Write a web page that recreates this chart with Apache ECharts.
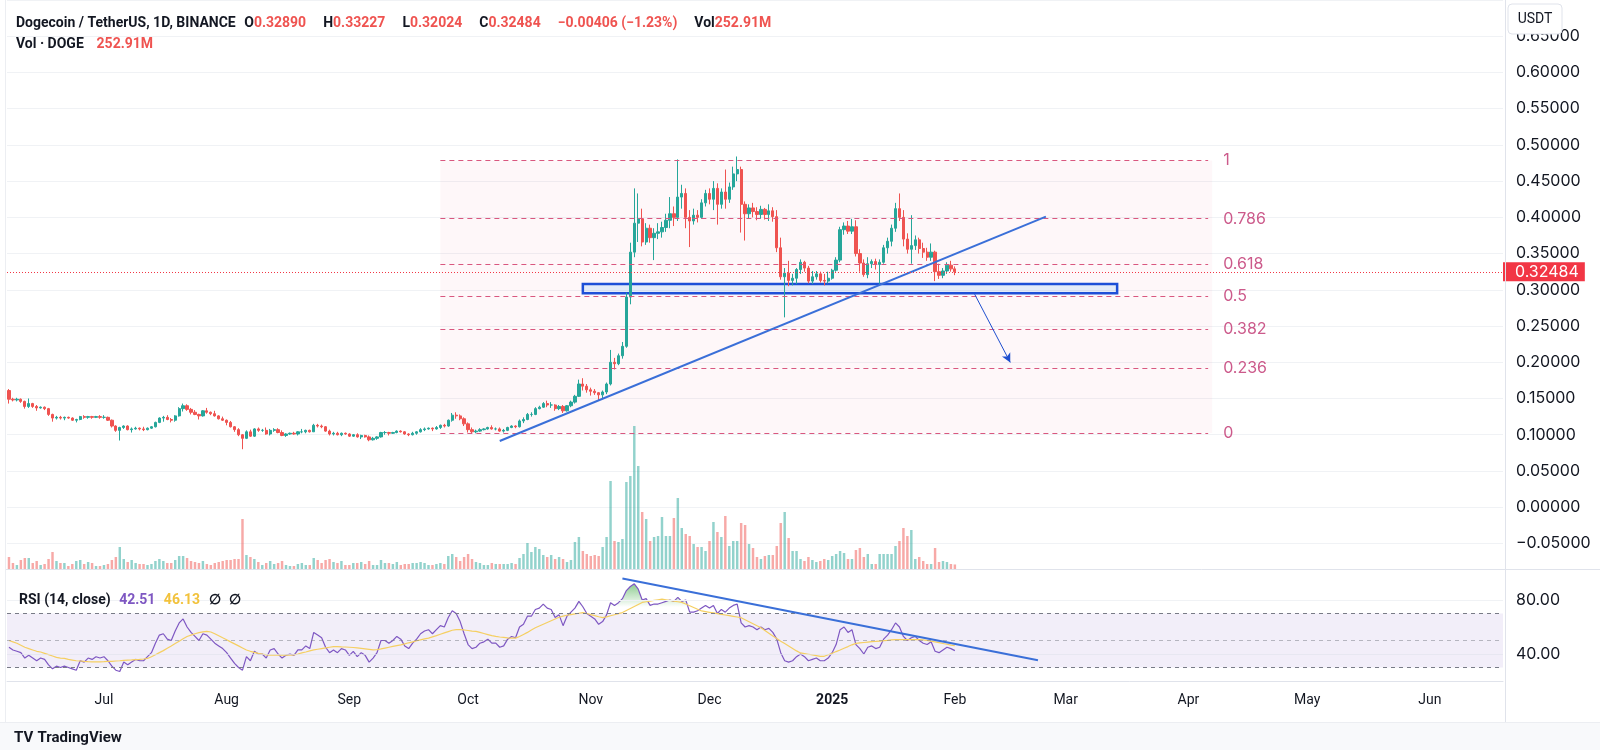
<!DOCTYPE html>
<html>
<head>
<meta charset="utf-8">
<script src="https://cdn.jsdelivr.net/npm/echarts@6/dist/echarts.min.js"></script>
<style>
  html, body { margin: 0; padding: 0; background: #fff; }
  #chart { width: 1600px; height: 750px; }
</style>
</head>
<body>
<div id="chart"></div>
<script>
// daily candles from 2024-06-07, [open, close, low, high]
const startDate = '2024-06-07';
const dayCount = 378;
const ohlc = [
  [0.161,0.149,0.143,0.163],[0.149,0.148,0.146,0.151],[0.148,0.149,0.146,0.151],[0.149,0.146,0.144,0.150],
  [0.146,0.139,0.136,0.147],[0.139,0.143,0.137,0.150],[0.143,0.139,0.137,0.144],[0.139,0.137,0.133,0.141],
  [0.137,0.138,0.136,0.139],[0.138,0.136,0.134,0.139],[0.136,0.128,0.126,0.137],[0.128,0.123,0.118,0.129],
  [0.123,0.124,0.121,0.126],[0.124,0.123,0.121,0.126],[0.123,0.124,0.120,0.125],[0.124,0.123,0.122,0.125],
  [0.123,0.120,0.119,0.124],[0.120,0.121,0.117,0.122],[0.121,0.125,0.120,0.126],[0.125,0.124,0.122,0.127],
  [0.124,0.125,0.122,0.126],[0.125,0.124,0.122,0.126],[0.124,0.125,0.123,0.126],[0.125,0.124,0.122,0.127],
  [0.124,0.124,0.122,0.127],[0.124,0.120,0.119,0.125],[0.120,0.112,0.110,0.121],[0.112,0.106,0.104,0.113],
  [0.106,0.110,0.092,0.111],[0.110,0.112,0.108,0.113],[0.112,0.107,0.106,0.113],[0.107,0.108,0.103,0.110],
  [0.108,0.109,0.107,0.111],[0.109,0.108,0.106,0.110],[0.108,0.107,0.105,0.111],[0.107,0.109,0.106,0.110],
  [0.109,0.111,0.108,0.112],[0.111,0.117,0.110,0.118],[0.117,0.123,0.116,0.124],[0.123,0.124,0.118,0.126],
  [0.124,0.121,0.120,0.127],[0.121,0.120,0.117,0.123],[0.120,0.126,0.118,0.127],[0.126,0.136,0.125,0.138],
  [0.136,0.140,0.132,0.143],[0.140,0.135,0.133,0.142],[0.135,0.131,0.128,0.137],[0.131,0.128,0.127,0.134],
  [0.128,0.126,0.121,0.129],[0.126,0.133,0.125,0.134],[0.133,0.131,0.129,0.137],[0.131,0.129,0.127,0.132],
  [0.129,0.126,0.125,0.133],[0.126,0.122,0.121,0.127],[0.122,0.120,0.119,0.125],[0.120,0.117,0.113,0.121],
  [0.117,0.111,0.110,0.119],[0.111,0.107,0.104,0.112],[0.107,0.100,0.098,0.109],[0.100,0.095,0.080,0.101],
  [0.095,0.104,0.094,0.106],[0.104,0.098,0.097,0.107],[0.098,0.108,0.097,0.109],[0.108,0.106,0.104,0.110],
  [0.106,0.106,0.104,0.108],[0.106,0.101,0.100,0.110],[0.101,0.106,0.099,0.108],[0.106,0.107,0.104,0.109],
  [0.107,0.103,0.102,0.109],[0.103,0.099,0.098,0.106],[0.099,0.101,0.097,0.102],[0.101,0.102,0.100,0.103],
  [0.102,0.101,0.100,0.104],[0.101,0.104,0.099,0.105],[0.104,0.104,0.102,0.108],[0.104,0.106,0.102,0.107],
  [0.106,0.104,0.103,0.107],[0.104,0.113,0.104,0.115],[0.113,0.112,0.110,0.115],[0.112,0.111,0.109,0.114],
  [0.111,0.105,0.104,0.112],[0.105,0.101,0.099,0.107],[0.101,0.102,0.099,0.104],[0.102,0.100,0.099,0.104],
  [0.100,0.102,0.098,0.103],[0.102,0.101,0.100,0.103],[0.101,0.098,0.097,0.102],[0.098,0.100,0.097,0.101],
  [0.100,0.097,0.096,0.102],[0.097,0.099,0.094,0.100],[0.099,0.097,0.096,0.100],[0.097,0.093,0.091,0.099],
  [0.093,0.095,0.092,0.097],[0.095,0.097,0.093,0.098],[0.097,0.103,0.096,0.104],[0.103,0.103,0.100,0.105],
  [0.103,0.102,0.099,0.104],[0.102,0.103,0.101,0.104],[0.103,0.105,0.102,0.106],[0.105,0.104,0.103,0.106],
  [0.104,0.101,0.100,0.105],[0.101,0.100,0.098,0.102],[0.100,0.102,0.099,0.104],[0.102,0.104,0.100,0.105],
  [0.104,0.107,0.103,0.109],[0.107,0.108,0.105,0.110],[0.108,0.109,0.107,0.110],[0.109,0.108,0.105,0.110],
  [0.108,0.110,0.107,0.112],[0.110,0.113,0.108,0.114],[0.113,0.112,0.110,0.115],[0.112,0.120,0.111,0.121],
  [0.120,0.127,0.118,0.130],[0.127,0.126,0.122,0.131],[0.126,0.122,0.120,0.128],[0.122,0.115,0.112,0.124],
  [0.115,0.107,0.103,0.117],[0.107,0.104,0.102,0.110],[0.104,0.105,0.102,0.107],[0.105,0.107,0.104,0.109],
  [0.107,0.108,0.106,0.109],[0.108,0.110,0.107,0.111],[0.110,0.108,0.107,0.113],[0.108,0.108,0.106,0.110],
  [0.108,0.105,0.104,0.110],[0.105,0.106,0.103,0.108],[0.106,0.110,0.105,0.111],[0.110,0.112,0.109,0.113],
  [0.112,0.111,0.109,0.113],[0.111,0.119,0.110,0.121],[0.119,0.121,0.116,0.124],[0.121,0.128,0.120,0.130],
  [0.128,0.128,0.125,0.131],[0.128,0.136,0.127,0.138],[0.136,0.138,0.135,0.140],[0.138,0.143,0.137,0.145],
  [0.143,0.141,0.138,0.147],[0.141,0.141,0.137,0.145],[0.141,0.136,0.133,0.142],[0.136,0.139,0.134,0.141],
  [0.139,0.133,0.130,0.141],[0.133,0.140,0.132,0.141],[0.140,0.145,0.138,0.147],[0.145,0.153,0.143,0.155],
  [0.153,0.170,0.152,0.176],[0.170,0.167,0.161,0.178],[0.167,0.162,0.158,0.170],[0.162,0.160,0.154,0.165],
  [0.160,0.158,0.155,0.163],[0.158,0.155,0.148,0.159],[0.155,0.159,0.149,0.161],[0.159,0.170,0.156,0.172],
  [0.170,0.200,0.168,0.217],[0.200,0.198,0.190,0.206],[0.198,0.209,0.196,0.212],[0.209,0.222,0.205,0.228],
  [0.222,0.290,0.220,0.296],[0.290,0.352,0.280,0.365],[0.352,0.392,0.345,0.440],[0.392,0.398,0.366,0.433],
  [0.398,0.366,0.360,0.412],[0.366,0.385,0.362,0.392],[0.385,0.372,0.365,0.390],[0.372,0.378,0.341,0.385],
  [0.378,0.380,0.370,0.392],[0.380,0.386,0.372,0.394],[0.386,0.396,0.380,0.405],[0.396,0.405,0.385,0.428],
  [0.405,0.400,0.388,0.415],[0.400,0.428,0.395,0.480],[0.428,0.433,0.412,0.445],[0.433,0.400,0.385,0.440],
  [0.400,0.395,0.359,0.410],[0.395,0.403,0.390,0.412],[0.403,0.400,0.393,0.410],[0.400,0.420,0.398,0.425],
  [0.420,0.433,0.415,0.438],[0.433,0.425,0.418,0.440],[0.425,0.440,0.410,0.450],[0.440,0.418,0.390,0.447],
  [0.418,0.435,0.412,0.440],[0.435,0.425,0.412,0.466],[0.425,0.442,0.420,0.448],[0.442,0.460,0.438,0.470],
  [0.460,0.466,0.450,0.484],[0.466,0.418,0.379,0.470],[0.418,0.405,0.368,0.422],[0.405,0.413,0.398,0.418],
  [0.413,0.408,0.400,0.420],[0.408,0.404,0.396,0.414],[0.404,0.411,0.398,0.416],[0.411,0.404,0.397,0.413],
  [0.404,0.409,0.395,0.418],[0.409,0.401,0.394,0.414],[0.401,0.358,0.352,0.410],[0.358,0.318,0.314,0.372],
  [0.318,0.323,0.262,0.330],[0.323,0.313,0.305,0.340],[0.313,0.316,0.306,0.322],[0.316,0.328,0.308,0.330],
  [0.328,0.338,0.322,0.342],[0.338,0.330,0.325,0.340],[0.330,0.312,0.309,0.333],[0.312,0.318,0.308,0.326],
  [0.318,0.322,0.314,0.326],[0.322,0.313,0.310,0.325],[0.313,0.312,0.306,0.322],[0.312,0.316,0.309,0.325],
  [0.316,0.327,0.314,0.329],[0.327,0.341,0.325,0.345],[0.341,0.383,0.338,0.387],[0.383,0.388,0.376,0.393],
  [0.388,0.381,0.377,0.395],[0.381,0.387,0.377,0.398],[0.387,0.350,0.346,0.396],[0.350,0.337,0.325,0.356],
  [0.337,0.321,0.318,0.342],[0.321,0.336,0.316,0.345],[0.336,0.339,0.330,0.342],[0.339,0.335,0.328,0.343],
  [0.335,0.338,0.308,0.342],[0.338,0.358,0.336,0.362],[0.358,0.367,0.350,0.372],[0.367,0.385,0.360,0.390],
  [0.385,0.412,0.380,0.420],[0.412,0.400,0.395,0.433],[0.400,0.370,0.360,0.410],[0.370,0.356,0.350,0.378],
  [0.356,0.361,0.336,0.403],[0.361,0.369,0.355,0.375],[0.369,0.357,0.350,0.372],[0.357,0.352,0.344,0.365],
  [0.352,0.345,0.340,0.358],[0.345,0.352,0.340,0.364],[0.352,0.325,0.312,0.354],[0.325,0.320,0.315,0.336],
  [0.320,0.326,0.316,0.330],[0.326,0.334,0.322,0.338],[0.334,0.3289,0.325,0.340],[0.3289,0.32484,0.32024,0.33227]
];

// volume in millions of DOGE
const volume = [
  672,336,224,504,616,616,336,448,224,280,560,952,448,336,336,168,280,448,504,280,392,336,168,168,
  224,280,504,672,1232,560,392,504,336,280,280,224,280,448,560,448,336,336,504,728,728,616,448,392,
  336,448,280,224,336,392,448,504,504,560,560,2800,784,672,560,392,224,336,448,280,336,448,224,168,
  168,280,336,224,224,616,504,336,504,560,392,336,448,224,224,336,336,392,280,448,224,224,504,336,
  336,280,392,224,280,280,336,336,392,336,224,224,280,336,280,728,840,672,448,672,840,560,392,336,
  224,224,336,280,280,280,280,336,280,616,840,1456,952,1232,1120,784,672,784,560,672,560,392,504,1512,
  1792,1008,840,728,784,728,1232,1792,4928,1568,1512,1680,4872,5208,8008,5768,3192,2800,1568,1792,1848,2912,1848,1848,
  2856,3976,2296,1960,1848,1400,1232,1232,1008,1568,2632,2072,1792,2968,1288,1568,1568,2576,2464,1400,1176,672,
  560,728,784,784,1288,2576,3192,1736,1008,1008,560,448,672,504,392,448,560,504,728,840,1008,896,560,560,
  1064,1176,672,840,280,280,840,840,840,840,1288,1568,2296,1848,2184,560,672,448,280,280,1176,392,448,392,280,252.91
];

const rsi = [
  45,43,42,41,37,39,37,35,37,36,32,29,31,30,31,30,29,28,35,34,37,36,38,37,
  38,35,31,28,27,34,32,34,36,35,35,38,41,48,54,55,51,50,57,63,66,60,56,53,
  50,55,54,51,48,46,44,41,37,33,30,28,38,35,42,40,40,37,43,44,40,37,39,40,
  39,43,43,46,44,56,54,52,45,41,43,41,44,43,39,42,38,41,39,34,37,41,50,50,
  48,50,53,51,46,44,48,51,55,57,58,55,58,61,60,67,72,70,64,55,47,44,45,48,
  49,51,48,48,45,46,51,53,52,60,62,68,68,73,74,77,74,73,67,69,61,68,71,74,
  79,75,70,68,66,62,64,69,78,76,78,81,87,90,92,88,80,81,76,77,77,78,79,80,
  79,82,79,80,71,71,72,74,76,74,76,70,73,71,74,76,77,63,60,61,60,58,60,58,
  59,56,51,41,35,34,35,38,40,38,35,36,37,35,35,37,41,47,58,60,56,58,47,44,
  40,45,46,44,45,51,54,58,63,60,53,50,52,53,50,48,47,49,42,41,43,45,44,42.51
];

const rsiMa = [
  50,49,48,46.5,45,44,43,42,41.5,40.5,39.5,38.5,37.5,37,36.7,36,35.5,35,34.8,34.5,34.3,34.2,34.2,34.2,
  34.3,34.5,34.6,34.8,35,35.3,35.5,35.6,35.8,36,36.3,36.7,38,39.5,41,42.5,44.3,46,47.8,49.5,51.3,53,54,55,
  55.8,56.4,56.8,56.3,55,53.5,52,50.6,49,47.5,46,44.5,43,42,41.2,40.5,40,39.4,39.2,39.2,39.2,39.2,39.2,39.2,
  39.3,40,40.8,41.5,42.3,43,43.5,44,44.5,45,45.5,45.5,45.3,45.2,45,44.8,44.5,44.2,43.8,43.4,43,43.3,43.8,44.4,
  45,45.6,46.2,46.8,47.5,48.3,49,49.8,50.5,51.2,51.8,52.7,53.6,54.6,55.6,56.6,57.6,58.1,58,57.8,57.4,57,56.7,56,
  55.2,54.4,53.6,53,52.6,52.3,52,51.8,51.8,53,54.5,56,57.8,59.4,60.7,62,63.3,64.6,65.9,67.2,68.1,68.7,69.2,69.7,
  70.2,70.7,70,69.2,68.4,67.6,66.9,67.5,68.3,69.1,69.9,70.7,72.2,73.7,75.2,76.7,78.2,78.7,79.2,79.7,80.2,80.7,80.2,79.7,
  79.2,78.7,78.2,77,75.7,74.4,73.1,71.9,71.4,70.9,70.4,69.9,69.4,68.9,68.4,67.9,67.4,66.9,65.4,63.9,62.4,60.9,59.4,57.4,
  55.4,53.4,51.4,49.5,47.7,45.9,44.1,42.3,40.8,40.3,39.8,39.3,38.8,38.3,38.3,39.4,40.5,41.8,43,44.3,45.5,46.8,47.9,48.2,
  48.5,48.8,49.1,49.3,49.6,49.9,50.1,50.4,50.6,50.6,50.6,50.6,50.6,50.6,50.6,50.5,50,49.5,49,48.4,47.8,47.2,46.6,46.13
];

const fibLevels = ['0', '0.236', '0.382', '0.5', '0.618', '0.786', '1'];
const fibLow = 0.1025;
const fibHigh = 0.4786;
const lastPrice = 0.32484;

const upColor = '#26a69a';
const downColor = '#ef5350';
const monthNames = ['Jan','Feb','Mar','Apr','May','Jun','Jul','Aug','Sep','Oct','Nov','Dec'];

// category dates
const dates = [];
(function () {
  let d = new Date(startDate + 'T00:00:00Z');
  for (let i = 0; i < dayCount; i++) {
    dates.push(d.toISOString().slice(0, 10));
    d = new Date(d.getTime() + 86400000);
  }
})();

const chart = echarts.init(document.getElementById('chart'), null, { renderer: 'canvas' });

const fibLines = fibLevels.map(function (lv) {
  const v = fibLow + parseFloat(lv) * (fibHigh - fibLow);
  return [
    { coord: [109, v], name: lv },
    { coord: [303, v] }
  ];
});

const overbought = rsi.map(function (v) { return Math.max(v - 70, 0); });
const base70 = rsi.map(function () { return 70; });

const font = 'Inter';
const headRich = {
  n: { color: '#131722', fontSize: 14, fontFamily: 'Roboto' },
  r: { color: '#ef5350', fontSize: 14, fontFamily: 'Roboto' },
  p: { color: '#7e57c2', fontSize: 14, fontFamily: 'Roboto' },
  y: { color: '#f2c23c', fontSize: 14, fontFamily: 'Roboto' }
};

const option = {
  animation: false,
  backgroundColor: '#ffffff',
  textStyle: { fontFamily: font },
  title: [
    {
      left: 11, top: 9,
      text: '{n|Dogecoin / TetherUS, 1D, BINANCE}  {n|O}{r|0.32890}    {n|H}{r|0.33227}    {n|L}{r|0.32024}    {n|C}{r|0.32484}    {r|−0.00406 (−1.23%)}    {n|Vol}{r|252.91M}',
      textStyle: { rich: headRich }
    },
    {
      left: 11, top: 30,
      text: '{n|Vol · DOGE}   {r|252.91M}',
      textStyle: { rich: headRich }
    },
    {
      left: 14, top: 586,
      text: '{n|RSI (14, close)}  {p|42.51}  {y|46.13}  {n|∅}  {n|∅}',
      textStyle: { rich: headRich }
    },
    {
      left: 9, top: 724,
      text: '{l|TV} {n|TradingView}',
      textStyle: {
        rich: {
          l: { color: '#131722', fontSize: 15, fontWeight: 'bold', fontFamily: 'Roboto' },
          n: { color: '#131722', fontSize: 15, fontFamily: 'Roboto' }
        }
      }
    }
  ],
  grid: [
    { left: 7, width: 1496, top: 0, height: 543.4 },
    { left: 7, width: 1496, top: 420, height: 149 },
    { left: 7, width: 1496, top: 573, height: 108 }
  ],
  xAxis: [
    { type: 'category', gridIndex: 0, data: dates, show: false },
    { type: 'category', gridIndex: 1, data: dates, show: false },
    {
      type: 'category', gridIndex: 2, data: dates,
      axisLine: { lineStyle: { color: '#e0e3eb' } },
      axisTick: { show: false },
      splitLine: { show: false },
      axisLabel: {
        margin: 12,
        color: '#131722',
        fontSize: 14,
        fontFamily: 'Roboto',
        interval: function (idx, val) { return val.slice(8) === '01'; },
        formatter: function (val) {
          const m = parseInt(val.slice(5, 7), 10);
          if (m === 1) return '{b|' + val.slice(0, 4) + '}';
          return monthNames[m - 1];
        },
        rich: { b: { fontWeight: 'bold', fontSize: 14, color: '#131722', fontFamily: 'Roboto' } }
      }
    }
  ],
  yAxis: [
    {
      type: 'value', gridIndex: 0, position: 'right',
      min: -0.05, max: 0.70, interval: 0.05,
      axisLine: { show: false }, axisTick: { show: false },
      splitLine: { lineStyle: { color: '#f0f2f5' } },
      axisLabel: {
        margin: 13, color: '#131722', fontSize: 16, fontFamily: font,
        formatter: function (v) {
          if (v > 0.675) return '';
          return (v < -1e-9 ? '−' : '') + Math.abs(v).toFixed(5);
        }
      }
    },
    {
      type: 'value', gridIndex: 1, min: 0, max: 8344, show: false
    },
    {
      type: 'value', gridIndex: 2, position: 'right',
      min: 20, max: 100, interval: 20,
      axisLine: { show: false }, axisTick: { show: false },
      splitLine: { show: false },
      axisLabel: {
        margin: 13, color: '#131722', fontSize: 16, fontFamily: font,
        formatter: function (v) { return (v === 40 || v === 80) ? v.toFixed(2) : ''; }
      }
    }
  ],
  graphic: [
    { type: 'rect', silent: true, z: 0, shape: { x: 0, y: 722, width: 1600, height: 28 }, style: { fill: '#f8f9fb' } },
    { type: 'line', silent: true, z: 0, shape: { x1: 0, y1: 722.5, x2: 1600, y2: 722.5 }, style: { stroke: '#eceef2', lineWidth: 1 } },
    { type: 'line', silent: true, z: 50, shape: { x1: 1505.5, y1: 0, x2: 1505.5, y2: 722 }, style: { stroke: '#e0e3eb', lineWidth: 1 } },
    { type: 'line', silent: true, z: 50, shape: { x1: 5, y1: 569.5, x2: 1600, y2: 569.5 }, style: { stroke: '#e0e3eb', lineWidth: 1 } },
    { type: 'line', silent: true, z: 50, shape: { x1: 5.5, y1: 0, x2: 5.5, y2: 722 }, style: { stroke: '#eceef2', lineWidth: 1 } },
    { type: 'rect', silent: true, z: 60, shape: { x: 1508, y: 4, width: 54, height: 30, r: 4 }, style: { fill: '#ffffff', stroke: '#e0e3eb', lineWidth: 1 } },
    { type: 'text', silent: true, z: 61, x: 1535, y: 19, style: { text: 'USDT', fill: '#131722', font: '14px Roboto', align: 'center', verticalAlign: 'middle' } }
  ],
  series: [
    {
      name: 'DOGEUSDT',
      type: 'candlestick',
      xAxisIndex: 0, yAxisIndex: 0,
      data: ohlc,
      barWidth: '70%',
      itemStyle: { color: upColor, color0: downColor, borderColor: upColor, borderColor0: downColor, borderWidth: 1 },
      markArea: {
        silent: true,
        data: [
          [
            { coord: [109, fibHigh], itemStyle: { color: 'rgba(233, 30, 99, 0.035)', borderWidth: 0 } },
            { coord: [304, fibLow] }
          ],
          [
            { coord: [145, 0.3081], itemStyle: { color: 'rgba(33, 150, 243, 0.12)', borderColor: '#1d4fd7', borderWidth: 2.5 } },
            { coord: [280, 0.2954] }
          ]
        ]
      },
      markLine: {
        silent: true,
        symbol: ['none', 'none'],
        precision: 5,
        data: fibLines.map(function (pair) {
          return [
            Object.assign({}, pair[0], {
              lineStyle: { color: '#d9577f', type: [5, 4], width: 1 },
              label: {
                show: true, position: 'end', distance: 15, formatter: '{b}',
                color: '#cc5a8b', fontSize: 16, fontFamily: font
              }
            }),
            pair[1]
          ];
        }).concat([
          [
            { coord: [124, 0.0913], lineStyle: { color: '#3a6fd8', type: 'solid', width: 2 }, label: { show: false } },
            { coord: [262, 0.4011] }
          ],
          [
            { coord: [244, 0.2940], lineStyle: { color: '#1f4fcf', type: 'solid', width: 1 }, label: { show: false }, symbol: 'none' },
            { coord: [253, 0.1998], symbol: 'arrow', symbolSize: [7, 9] }
          ],
          {
            yAxis: lastPrice,
            lineStyle: { color: '#f23645', type: [1, 2], width: 1 },
            label: {
              show: true, position: 'end', distance: 0,
              formatter: lastPrice.toFixed(5),
              backgroundColor: '#f23645', color: '#ffffff',
              fontSize: 16, fontFamily: font, padding: [2, 6, 1, 12]
            }
          }
        ])
      }
    },
    {
      name: 'Volume',
      type: 'bar',
      xAxisIndex: 1, yAxisIndex: 1,
      data: volume,
      barWidth: '62%',
      silent: true,
      itemStyle: {
        color: function (p) {
          const c = ohlc[p.dataIndex];
          return c[1] >= c[0] ? 'rgba(38, 166, 154, 0.5)' : 'rgba(239, 83, 80, 0.5)';
        }
      }
    },
    {
      name: 'OB base',
      type: 'line',
      xAxisIndex: 2, yAxisIndex: 2,
      data: base70,
      stack: 'ob',
      symbol: 'none',
      silent: true,
      lineStyle: { opacity: 0 }
    },
    {
      name: 'OB fill',
      type: 'line',
      xAxisIndex: 2, yAxisIndex: 2,
      data: overbought,
      stack: 'ob',
      symbol: 'none',
      silent: true,
      lineStyle: { opacity: 0 },
      areaStyle: {
        opacity: 1,
        color: {
          type: 'linear', x: 0, y: 578, x2: 0, y2: 607, global: true,
          colorStops: [
            { offset: 0, color: 'rgba(76, 175, 80, 0.8)' },
            { offset: 1, color: 'rgba(76, 175, 80, 0)' }
          ]
        }
      }
    },
    {
      name: 'RSI',
      type: 'line',
      xAxisIndex: 2, yAxisIndex: 2,
      data: rsi,
      symbol: 'none',
      silent: true,
      lineStyle: { color: '#7e57c2', width: 1.2 },
      markArea: {
        silent: true,
        itemStyle: { color: 'rgba(126, 87, 194, 0.1)' },
        data: [[{ yAxis: 30 }, { yAxis: 70 }]]
      },
      markLine: {
        silent: true,
        symbol: ['none', 'none'],
        label: { show: false },
        data: [
          { yAxis: 80, lineStyle: { color: '#f0f2f5', type: 'solid', width: 1 } },
          { yAxis: 40, lineStyle: { color: 'rgba(224, 227, 235, 0.6)', type: 'solid', width: 1 } },
          { yAxis: 70, lineStyle: { color: '#787b86', type: [4, 4], width: 1 } },
          { yAxis: 50, lineStyle: { color: 'rgba(120, 123, 134, 0.5)', type: [4, 4], width: 1 } },
          { yAxis: 30, lineStyle: { color: '#787b86', type: [4, 4], width: 1 } },
          [
            { coord: [155, 95.9], lineStyle: { color: '#3a6fd8', type: 'solid', width: 2 } },
            { coord: [260, 35.4] }
          ]
        ]
      }
    },
    {
      name: 'RSI MA',
      type: 'line',
      xAxisIndex: 2, yAxisIndex: 2,
      data: rsiMa,
      symbol: 'none',
      silent: true,
      lineStyle: { color: '#f5cf62', width: 1.2 }
    }
  ]
};

option && chart.setOption(option);
</script>
</body>
</html>
